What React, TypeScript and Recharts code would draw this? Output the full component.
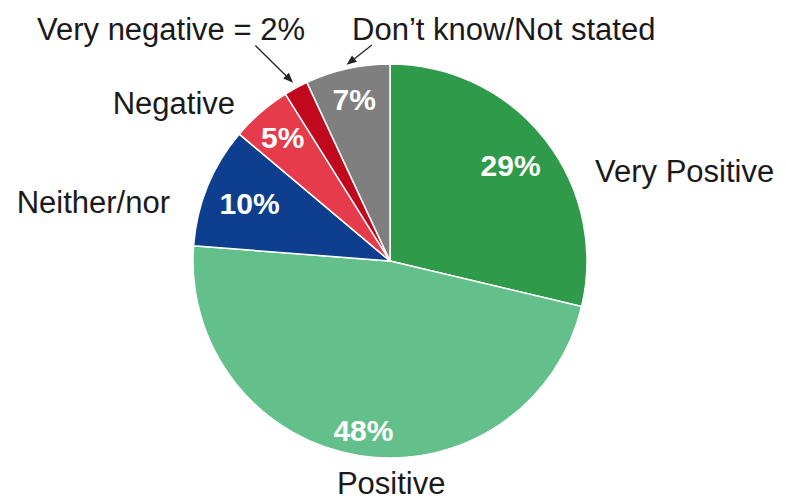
import { PieChart, Pie, Cell } from 'recharts'

const categories = ['Very Positive', 'Positive', 'Neither/nor', 'Negative', 'Very negative', 'Don’t know/Not stated']
const shares = [29, 48, 10, 5, 2, 7]
const outerLabels = ['Very Positive', 'Positive', 'Neither/nor', 'Negative', 'Very negative = 2%', 'Don’t know/Not stated']
const innerLabels = ['29%', '48%', '10%', '5%', '', '7%']

const COLORS = ['#2f9a4a', '#63c08a', '#0e3f8e', '#e53b4b', '#c1091d', '#7f7f7f']

// label placement: polar angle (deg) and radius as a fraction of the pie radius
const innerPos = [0.78, 0.87, 0.77, 0.83, 0, 0.84]
const outerPos = [
  { angle: 23.5, r: 1.135, anchor: 'start' },
  { angle: -89.7, r: 1.13, anchor: 'middle' },
  { angle: 165.2, r: 1.155, anchor: 'end' },
  { angle: 134.6, r: 1.12, anchor: 'end' },
  { angle: 110.2, r: 1.25, anchor: 'end' },
  { angle: 99.3, r: 1.19, anchor: 'start' },
]
// arrows for the thin slices: start point (polar) -> tip on the slice edge
const arrows: Record<number, { angle: number; r: number; tip: number }> = {
  4: { angle: 122, r: 1.29, tip: 1.03 },
  5: { angle: 94.8, r: 1.1, tip: 1.02 },
}

const data = categories.map((name, i) => ({ name, value: shares[i] }))

const RAD = Math.PI / 180
const pt = (cx: number, cy: number, r: number, a: number) => [cx + r * Math.cos(a * RAD), cy - r * Math.sin(a * RAD)]

const renderLabel = (props: any) => {
  const { cx, cy, midAngle, outerRadius, index } = props
  const o = outerPos[index]
  const [ox, oy] = pt(cx, cy, outerRadius * o.r, o.angle)
  const [ix, iy] = pt(cx, cy, outerRadius * innerPos[index], midAngle)
  const arr = arrows[index]
  let arrow = null
  if (arr) {
    const [x1, y1] = pt(cx, cy, outerRadius * arr.r, arr.angle)
    const [x2, y2] = pt(cx, cy, outerRadius * arr.tip, midAngle)
    const ang = Math.atan2(y2 - y1, x2 - x1)
    const len = 10
    const w = 4
    const bx = x2 - len * Math.cos(ang)
    const by = y2 - len * Math.sin(ang)
    const head = `M${x2},${y2} L${bx + w * Math.sin(ang)},${by - w * Math.cos(ang)} L${bx - w * Math.sin(ang)},${by + w * Math.cos(ang)} Z`
    arrow = (
      <g>
        <line x1={x1} y1={y1} x2={bx} y2={by} stroke="#222" strokeWidth={1.3} />
        <path d={head} fill="#222" />
      </g>
    )
  }
  return (
    <g>
      {innerLabels[index] && (
        <text x={ix} y={iy} fill="#fff" fontSize={30} fontWeight="bold" textAnchor="middle" dominantBaseline="central">
          {innerLabels[index]}
        </text>
      )}
      <text x={ox} y={oy} fill="#1a1a1a" fontSize={31} textAnchor={o.anchor} dominantBaseline="central">
        {outerLabels[index]}
      </text>
      {arrow}
    </g>
  )
}

export default function App() {
  return (
    <div style={{ position: 'absolute', left: 0, top: 0, width: 786, height: 500, background: '#fff', fontFamily: 'Arial, "Liberation Sans", sans-serif' }}>
      <PieChart width={786} height={500} margin={{ top: 0, right: 0, bottom: 0, left: 0 }}>
        <Pie
          data={data}
          dataKey="value"
          nameKey="name"
          cx={390}
          cy={261}
          outerRadius={197}
          startAngle={90}
          endAngle={-270}
          stroke="#fff"
          strokeWidth={1.5}
          label={renderLabel}
          labelLine={false}
          isAnimationActive={false}
        >
          {data.map((entry, index) => (
            <Cell key={`cell-${index}`} fill={COLORS[index]} />
          ))}
        </Pie>
      </PieChart>
    </div>
  )
}
